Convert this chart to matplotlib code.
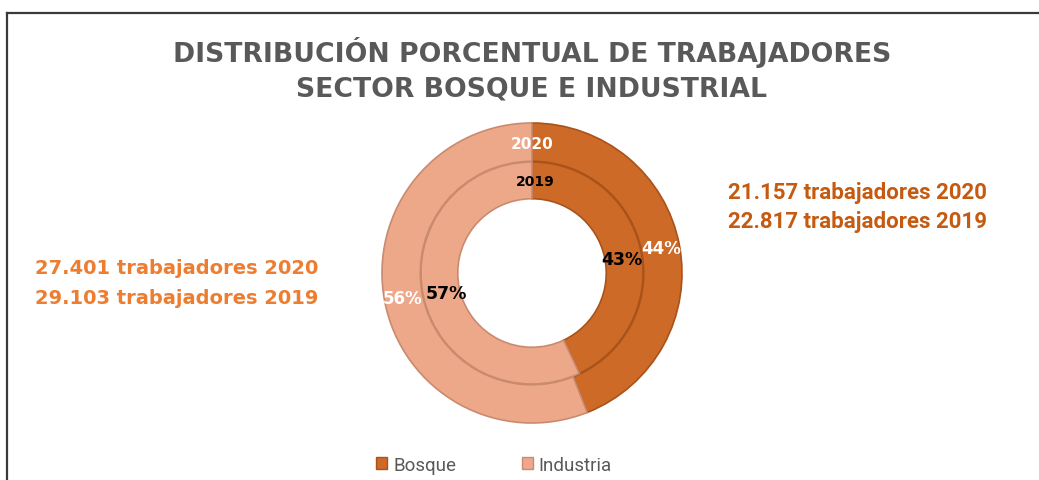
import matplotlib
matplotlib.use('Agg')
import matplotlib.pyplot as plt

# Data
categorias = ['Bosque', 'Industria']
pct_2020 = [44, 56]
pct_2019 = [43, 57]
texto_bosque = ['21.157 trabajadores 2020', '22.817 trabajadores 2019']
texto_industria = ['27.401 trabajadores 2020', '29.103 trabajadores 2019']
titulo = ['DISTRIBUCIÓN PORCENTUAL DE TRABAJADORES', 'SECTOR BOSQUE E INDUSTRIAL']

colores = ['#CD6A28', '#EDA88A']
bordes = ['#A9521A', '#C98A6E']

W, H = 1039, 481
fig = plt.figure(figsize=(W / 100, H / 100), dpi=100)
fig.patch.set_facecolor('white')

def fx(x):
    return x / W

def fy(y):
    return 1 - y / H

# frame lines (top and left)
fig.add_artist(plt.Line2D([fx(7), 1], [fy(14), fy(14)], color='#3a3a3a', lw=1.6))
fig.add_artist(plt.Line2D([fx(7), fx(7)], [fy(14), 0], color='#3a3a3a', lw=1.6))

# Title
for i, linea in enumerate(titulo):
    fig.text(fx(532), fy(52 + 38 * i), linea, ha='center', va='center',
             fontsize=19.2, fontweight='bold', color='#595959', family='DejaVu Sans')

# Donut
cx, cy, r = 532, 274, 150
ax = fig.add_axes([fx(cx - r), fy(cy + r), 2 * r / W, 2 * r / H])

w_out, t_out, a_out = ax.pie(pct_2020, radius=1.0, colors=colores, startangle=90,
                             counterclock=False, autopct='%1.0f%%', pctdistance=0.88,
                             wedgeprops=dict(width=0.255, linewidth=1.2))
w_in, t_in, a_in = ax.pie(pct_2019, radius=0.74, colors=colores, startangle=90,
                          counterclock=False, autopct='%1.0f%%', pctdistance=0.83,
                          wedgeprops=dict(width=0.245, linewidth=1.2))
ax.set_xlim(-1, 1)
ax.set_ylim(-1, 1)
ax.set_aspect('equal')
ax.axis('off')

for w, b in zip(w_out, bordes):
    w.set_edgecolor(b)
for w, b in zip(w_in, bordes):
    w.set_edgecolor(b)
for a in a_out:
    a.set_color('white')
    a.set_fontsize(12)
    a.set_fontweight('bold')
for a in a_in:
    a.set_color('black')
    a.set_fontsize(12.5)
    a.set_fontweight('bold')
# small nudges toward the reference label positions
a_in[0].set_y(a_in[0].get_position()[1] - 0.04)
a_in[1].set_x(a_in[1].get_position()[0] + 0.03)

ax.text(0, 0.86, '2020', ha='center', va='center', color='white', fontsize=11, fontweight='bold')
ax.text(0.02, 0.61, '2019', ha='center', va='center', color='black', fontsize=10, fontweight='bold')

# side annotations
for i, t in enumerate(texto_bosque):
    fig.text(fx(857), fy(193 + 29 * i), t, ha='center', va='center', fontsize=16,
             fontweight='bold', color='#C55A11', family='Roboto')
for i, t in enumerate(texto_industria):
    fig.text(fx(177), fy(269 + 29 * i), t, ha='center', va='center', fontsize=14,
             fontweight='bold', color='#ED7D31', family='DejaVu Sans')

# Legend
handles = [plt.Rectangle((0, 0), 1, 1, facecolor=c, edgecolor=b) for c, b in zip(colores, bordes)]
fig.legend(handles, categorias, loc='center', bbox_to_anchor=(fx(494), fy(466)), ncol=2,
           frameon=False, handlelength=0.6, handleheight=0.6,
           handletextpad=0.3, columnspacing=3.5, labelcolor='#595959',
           prop={'family': 'Roboto', 'size': 13.5})

fig.savefig('out.png', dpi=100)
